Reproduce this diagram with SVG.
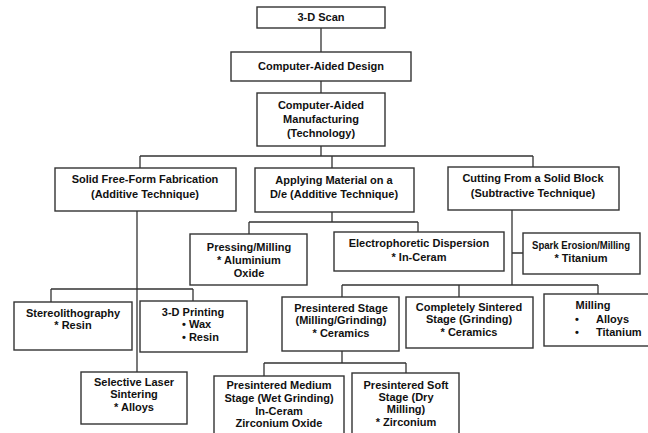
<svg xmlns="http://www.w3.org/2000/svg" width="648" height="433" viewBox="0 0 648 433">
<style>
.box{fill:#fff;stroke:#333;stroke-width:1.4}
.ln{fill:none;stroke:#333;stroke-width:1.3}
text{font-family:"Liberation Sans",Arial,sans-serif;font-weight:bold;font-size:11px;fill:#111;text-anchor:middle}
.l{text-anchor:start}
</style>
<rect width="648" height="433" fill="#fff"/>
<g id="connectors">
<path class="ln" d="M321,28V52M321,81V93M321,146V156M140,156H533M140,156V168M332,156V168M533,156V167"/>
<path class="ln" d="M332,212V222M249,222H418M249,222V234M418,222V232"/>
<path class="ln" d="M512,210V285M512,253H523M342,285H598M342,285V297M459,285V297M598,285V294"/>
<path class="ln" d="M137,211V372M51,289H193M51,289V302M193,289V301"/>
<path class="ln" d="M342,351V363M264,363H406M264,363V376M406,363V373"/>
</g>
<g id="scan"><rect class="box" x="257" y="7" width="128" height="21"/><text x="321" y="21">3-D Scan</text></g>
<g id="cad"><rect class="box" x="231" y="52" width="180" height="29"/><text x="321" y="70">Computer-Aided Design</text></g>
<g id="cam"><rect class="box" x="257" y="93" width="128" height="53"/><text x="321" y="109">Computer-Aided</text><text x="321" y="123">Manufacturing</text><text x="321" y="137">(Technology)</text></g>
<g id="sff"><rect class="box" x="55" y="168" width="181" height="43"/><text x="145" y="183">Solid Free-Form Fabrication</text><text x="145" y="198">(Additive Technique)</text></g>
<g id="apply"><rect class="box" x="255" y="168" width="159" height="44"/><text x="334" y="184">Applying Material on a</text><text x="334" y="198">D/e (Additive Technique)</text></g>
<g id="cut"><rect class="box" x="448" y="167" width="171" height="43"/><text x="533" y="182">Cutting From a Solid Block</text><text x="533" y="197">(Subtractive Technique)</text></g>
<g id="press"><rect class="box" x="190" y="234" width="117" height="51"/><text x="249" y="251">Pressing/Milling</text><text x="249" y="264">* Aluminium</text><text x="249" y="277">Oxide</text></g>
<g id="electro"><rect class="box" x="334" y="232" width="170" height="39"/><text x="419" y="247">Electrophoretic Dispersion</text><text x="419" y="261">* In-Ceram</text></g>
<g id="spark"><rect class="box" x="523" y="233" width="117" height="41"/><text x="581" y="249" textLength="98" lengthAdjust="spacingAndGlyphs">Spark Erosion/Milling</text><text x="581" y="262">* Titanium</text></g>
<g id="stereo"><rect class="box" x="14" y="302" width="118" height="48"/><text x="73" y="317">Stereolithography</text><text x="73" y="329">* Resin</text></g>
<g id="print3d"><rect class="box" x="140" y="301" width="107" height="51"/><text x="193" y="316">3-D Printing</text><text class="l" x="182" y="328">• Wax</text><text class="l" x="182" y="341">• Resin</text></g>
<g id="sls"><rect class="box" x="81" y="372" width="106" height="52"/><text x="134" y="386">Selective Laser</text><text x="134" y="398">Sintering</text><text x="134" y="411">* Alloys</text></g>
<g id="presint"><rect class="box" x="282" y="297" width="117" height="54"/><text x="341" y="312">Presintered Stage</text><text x="341" y="324">(Milling/Grinding)</text><text x="341" y="337">* Ceramics</text></g>
<g id="complete"><rect class="box" x="406" y="297" width="127" height="51"/><text x="469" y="311">Completely Sintered</text><text x="469" y="323">Stage (Grinding)</text><text x="469" y="336">* Ceramics</text></g>
<g id="milling"><rect class="box" x="544" y="294" width="110" height="52"/><text x="593" y="309">Milling</text><text class="l" x="575" y="323">•</text><text class="l" x="596" y="323">Alloys</text><text class="l" x="575" y="336">•</text><text class="l" x="596" y="336">Titanium</text></g>
<g id="medium"><rect class="box" x="214" y="376" width="130" height="64"/><text x="279" y="389">Presintered Medium</text><text x="279" y="402">Stage (Wet Grinding)</text><text x="279" y="415">In-Ceram</text><text x="279" y="427">Zirconium Oxide</text></g>
<g id="soft"><rect class="box" x="352" y="373" width="107" height="67"/><text x="406" y="389">Presintered Soft</text><text x="406" y="401">Stage (Dry</text><text x="406" y="413">Milling)</text><text x="406" y="426">* Zirconium</text></g>
</svg>
